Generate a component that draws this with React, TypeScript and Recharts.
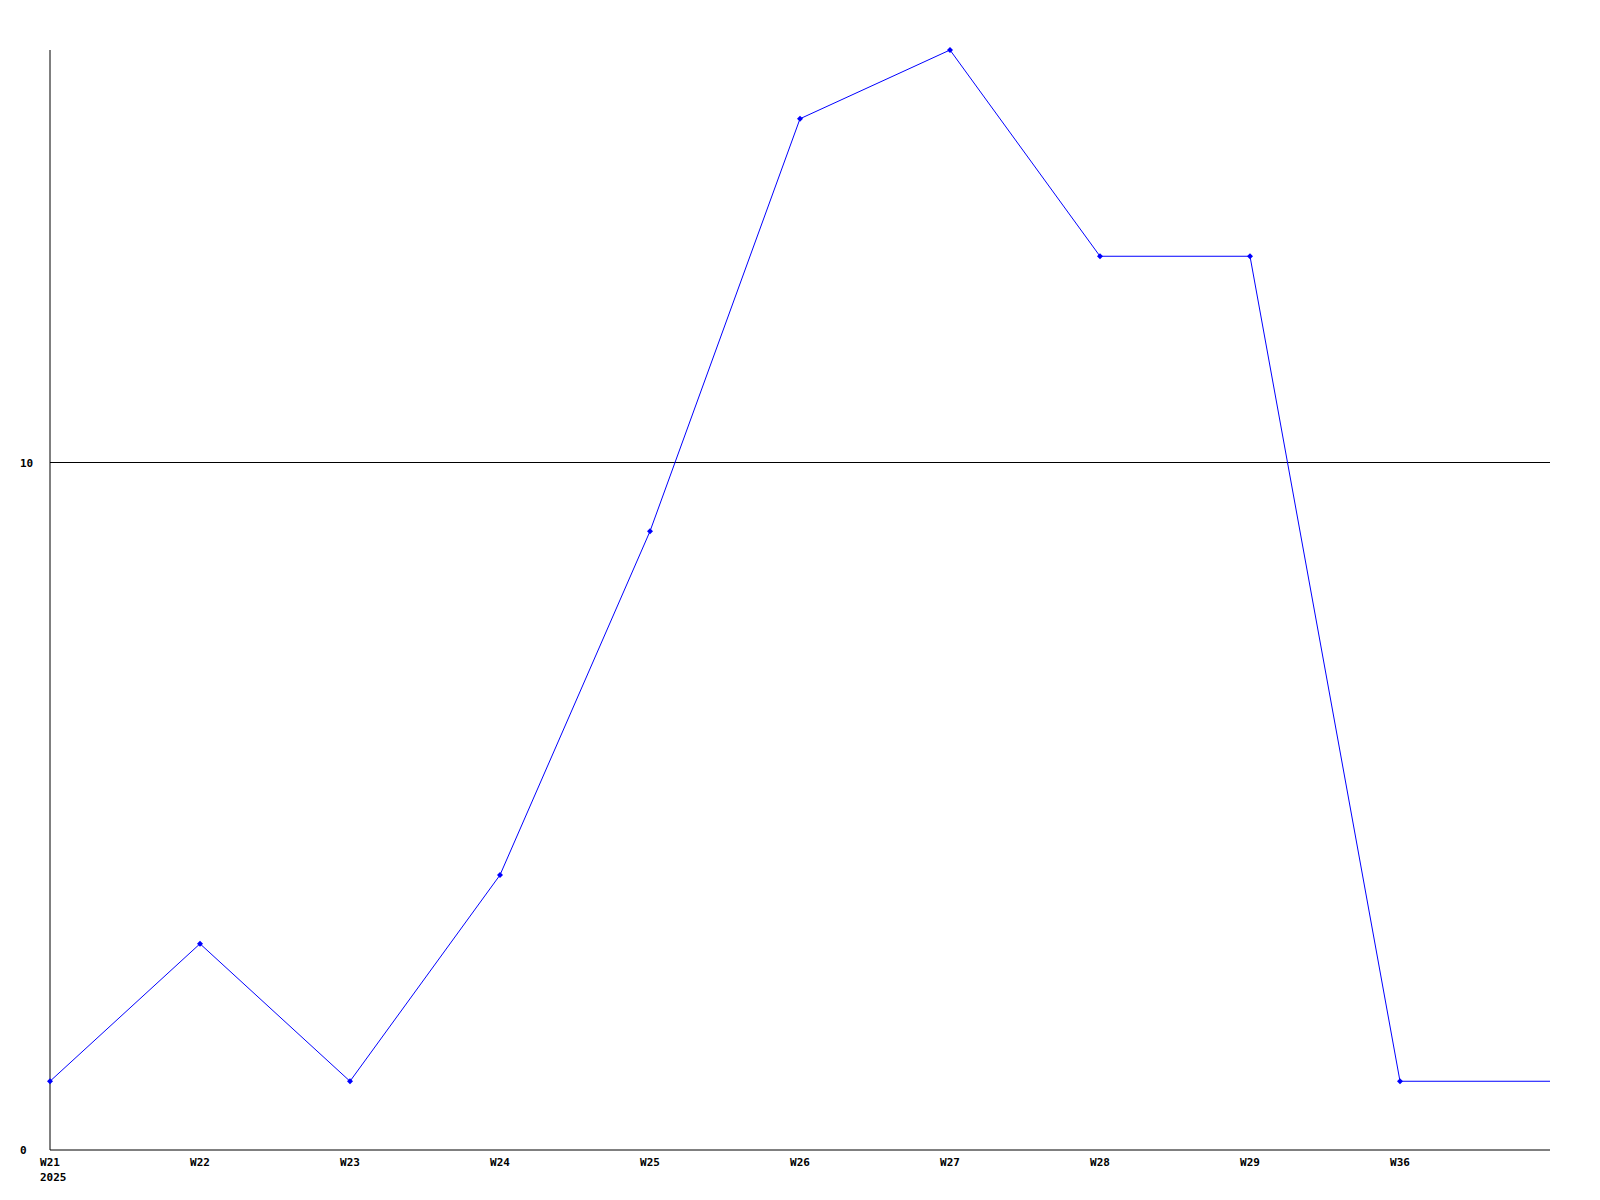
import React from 'react';
import { LineChart, Line, XAxis, YAxis, ReferenceLine } from 'recharts';

const weeks = ['W21', 'W22', 'W23', 'W24', 'W25', 'W26', 'W27', 'W28', 'W29', 'W36', ''];
const counts = [1, 3, 1, 4, 9, 15, 16, 13, 13, 1, 1];
const yTicks = [0, 10];
const yearLabel = '2025';

const data = weeks.map((w, i) => ({ week: w, value: counts[i], idx: i }));

const FONT = '"DejaVu Sans Mono", monospace';

const XTick = (props: any) => {
  const { x, y, payload, index } = props;
  return (
    <g>
      <text x={x} y={y + 8} textAnchor="middle" fontFamily={FONT} fontWeight="bold" fontSize={11} fill="#000">
        {payload.value}
      </text>
      {index === 0 && (
        <text x={x - 10} y={y + 23} textAnchor="start" fontFamily={FONT} fontWeight="bold" fontSize={11} fill="#000">
          {yearLabel}
        </text>
      )}
    </g>
  );
};

const YTick = (props: any) => {
  const { y, payload } = props;
  return (
    <text x={20} y={y + 4} textAnchor="start" fontFamily={FONT} fontWeight="bold" fontSize={11} fill="#000">
      {payload.value}
    </text>
  );
};

const Dot = (props: any) => {
  const { cx, cy, index } = props;
  if (index === counts.length - 1) return <g key={index} />;
  return (
    <path
      key={index}
      d={`M${cx - 3},${cy} L${cx},${cy - 3} L${cx + 3},${cy} L${cx},${cy + 3} Z`}
      fill="#0000ff"
      stroke="none"
    />
  );
};

export default function App() {
  return (
    <div style={{ position: 'absolute', left: 0, top: 0, width: 1600, height: 1200, background: '#fff' }}>
      <LineChart width={1600} height={1200} data={data} margin={{ top: 50, right: 50, left: 0, bottom: 0 }}>
        <XAxis
          dataKey="week"
          type="category"
          axisLine={{ stroke: '#000', strokeWidth: 1 }}
          tickLine={false}
          tick={<XTick />}
          interval={0}
          height={50}
          padding={{ left: 0, right: 0 }}
        />
        <YAxis
          domain={[0, 16]}
          ticks={yTicks}
          axisLine={{ stroke: '#000', strokeWidth: 1 }}
          tickLine={false}
          tick={<YTick />}
          width={50}
        />
        <ReferenceLine y={10} stroke="#000" strokeWidth={1} />
        <Line
          type="linear"
          dataKey="value"
          stroke="#0000ff"
          strokeWidth={1}
          dot={<Dot />}
          activeDot={false}
          isAnimationActive={false}
        />
      </LineChart>
    </div>
  );
}
